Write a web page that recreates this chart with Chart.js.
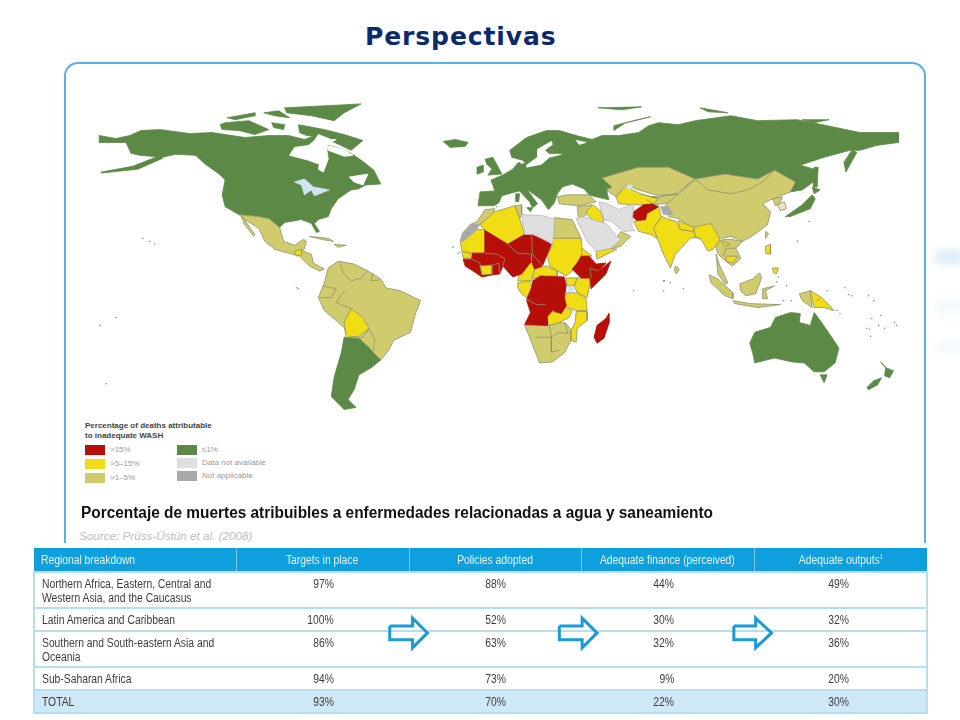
<!DOCTYPE html>
<html>
<head>
  <title>Perspectivas</title>
  <script src="https://cdn.jsdelivr.net/npm/chart.js@4.4.2/dist/chart.umd.min.js"></script>
  <style>
    html, body { margin: 0; padding: 0; background: #fff; }
    body { width: 960px; height: 720px; position: relative; overflow: hidden; font-family: "Liberation Sans", Arial, sans-serif; }
    h1 { position: absolute; left: 365px; top: 22px; margin: 0; font: bold 25px "DejaVu Sans", sans-serif; color: #0b2a6e; letter-spacing: 0.9px; }
    #panel { position: absolute; left: 64px; top: 62px; width: 858px; height: 479px; border: 2px solid #55b2e2; border-bottom: none; border-radius: 14px 14px 0 0; }
    .glow { position: absolute; left: 935px; width: 30px; background: #dcedf8; filter: blur(4px); }
    canvas { position: absolute; left: 0; top: 0; z-index: 3; pointer-events: none; filter: blur(0.3px); }
    #legendTitle { position: absolute; left: 85px; top: 421px; font-weight: bold; font-size: 8px; line-height: 10px; color: #444; }
    .swatch { position: absolute; width: 20px; height: 10px; }
    .swatchLabel { position: absolute; font-size: 8px; line-height: 10px; color: #999; white-space: nowrap; }
    #caption { position: absolute; left: 81px; top: 504px; font-weight: bold; font-size: 16px; color: #111; white-space: nowrap; transform: scaleX(0.963); transform-origin: left; }
    #source { position: absolute; left: 79px; top: 529px; font-style: italic; font-size: 11.7px; color: #bdbdbd; white-space: nowrap; }
    table { position: absolute; left: 33px; top: 548px; width: 893px; border-collapse: collapse; table-layout: fixed; font-size: 12px; line-height: 14px; color: #3c3c3c; }
    th { background: #0f9fdf; color: #e4f4fc; font-weight: normal; height: 23px; padding: 0; border-left: 1px solid #7cc8ec; text-align: center; }
    th:first-child { text-align: left; padding-left: 7px; border-left: none; }
    td { box-sizing: border-box; padding: 4px 0 0 7px; border: 2px solid #b4def1; border-width: 2px 0; vertical-align: top; }
    td.num { text-align: right; }
    tr.one td { height: 23px; }
    tr.two td { height: 36px; }
    tr.total td { background: #cfe8f6; }
    tr td:first-child { border-left: 2px solid #b4def1; }
    tr td:last-child { border-right: 2px solid #b4def1; }
    sup { font-size: 7px; line-height: 0; }
    .t { display: inline-block; white-space: nowrap; transform: scaleX(0.86); transform-origin: left; }
    th .t { transform-origin: center; }
    th:first-child .t { transform-origin: left; }
    td.num .t { transform-origin: right; }
  </style>
</head>
<body>
  <h1>Perspectivas</h1>
  <div id="panel"></div>
  <div class="glow" style="top:250px;height:14px"></div>
  <div class="glow" style="top:300px;height:14px;opacity:.35"></div>
  <div class="glow" style="top:342px;height:10px;opacity:.45"></div>
  <div id="legendTitle">Percentage of deaths attributable<br>to inadequate WASH</div>
  <div id="legend"></div>
  <div id="caption">Porcentaje de muertes atribuibles a enfermedades relacionadas a agua y saneamiento</div>
  <div id="source">Source: Prüss-Üstün et al. (2008)</div>
  <table id="tbl"></table>
  <canvas id="mapChart" width="960" height="720"></canvas>
<script>
// table data
const columnLabels = ['Regional breakdown', 'Targets in place', 'Policies adopted', 'Adequate finance (perceived)', 'Adequate outputs<sup>1</sup>'];
const regionLabels = ['Northern Africa, Eastern, Central and<br>Western Asia, and the Caucasus', 'Latin America and Caribbean', 'Southern and South-eastern Asia and<br>Oceania', 'Sub-Saharan Africa', 'TOTAL'];
const targetsInPlace = [97, 100, 86, 94, 93];
const policiesAdopted = [88, 52, 63, 73, 70];
const adequateFinance = [44, 30, 32, 9, 22];
const adequateOutputs = [49, 32, 36, 20, 30];

// legend
const legendLabels = ['>15%', '>5–15%', '>1–5%', '≤1%', 'Data not available', 'Not applicable'];

// map outlines, in map units (x east, y south)
const northAmerica = [[96,133],[113,136],[127,133],[138,128],[157,127],[187,131],[210,130],[243,135],[267,133],[287,133],[303,137],[317,132],[327,143],[343,147],[353,153],[363,160],[373,168],[380,182],[365,183],[357,187],[350,188],[337,197],[330,207],[327,215],[317,218],[313,222],[318,230],[315,231],[310,222],[300,218],[283,221],[278,226],[267,217],[257,215],[237,213],[223,205],[220,193],[223,178],[217,172],[203,162],[193,153],[173,152],[160,155],[137,153],[128,151],[123,140],[96,140]];
const alaskaPeninsula = [[98,170],[130,164],[158,153],[160,156],[135,167],[98,171]];
const ellesmere = [[283,105],[360,101],[343,110],[333,118],[310,113],[285,110]];
const banks = [[225,115],[253,110],[253,113],[233,117]];
const victoria = [[218,122],[223,120],[247,118],[267,127],[253,132],[237,128],[220,127]];
const arcticA = [[262,110],[277,108],[288,115],[273,113]];
const arcticB = [[270,120],[283,122],[282,127],[272,125]];
const baffin = [[297,122],[323,127],[343,132],[362,138],[350,148],[323,135],[305,133],[298,130]];
const iceland = [[443,139],[455,137],[468,140],[465,144],[450,145]];
const argentinaChile = [[343,337],[358,338],[368,347],[380,360],[370,368],[358,375],[353,390],[347,400],[355,408],[343,410],[330,397],[333,377],[340,353]];
const britain = [[485,157],[493,155],[502,172],[488,173],[492,167],[487,162]];
const ireland = [[477,165],[483,163],[483,170],[477,172]];
const sardinia = [[516,192],[520,192],[519,200],[516,200]];
const sicily = [[527,206],[533,206],[531,210]];
const eurasiaNorth = [[478,204],[480,190],[495,189],[491,178],[503,173],[513,167],[519,160],[522,162],[526,161],[523,158],[512,155],[510,148],[527,135],[547,128],[560,128],[577,133],[593,137],[603,133],[620,133],[640,130],[650,123],[660,120],[680,122],[697,118],[733,113],[760,118],[800,117],[830,123],[863,130],[902,130],[902,140],[880,143],[863,148],[853,148],[827,155],[803,163],[817,167],[820,177],[805,188],[793,190],[798,180],[777,168],[760,177],[727,172],[697,177],[670,165],[640,165],[603,176],[613,185],[608,190],[610,198],[597,195],[590,193],[585,187],[573,182],[563,185],[558,192],[556,198],[555,201],[549,208],[542,198],[527,187],[538,202],[533,206],[530,200],[520,189],[512,191],[502,194],[499,201],[494,204]];
const kamchatka = [[855,148],[860,150],[849,170],[847,160]];
const novayaZemlya = [[615,123],[652,114],[627,120],[615,128]];
const svalbard = [[599,105],[643,104],[623,107]];
const franzJosef = [[702,105],[730,110],[710,109]];
const newSiberia = [[805,117],[832,117],[817,120]];
const sakhalin = [[817,165],[821,165],[820,185],[816,185]];
const honshu = [[788,215],[805,203],[815,193],[818,197],[813,207],[793,215]];
const hokkaido = [[815,185],[823,188],[817,192]];
const australia = [[752,343],[757,332],[773,327],[778,317],[793,312],[803,313],[802,322],[813,325],[817,312],[823,320],[832,333],[842,348],[838,363],[827,372],[817,372],[807,363],[795,362],[777,358],[757,363],[755,353]];
const tasmania = [[823,375],[830,375],[827,383]];
const nzNorth = [[884,362],[890,368],[897,371],[893,378],[888,376],[889,368]];
const nzSouth = [[885,378],[881,385],[872,390],[870,388],[877,381]];

const mexicoCentral = [[237,213],[257,215],[267,217],[278,226],[282,240],[293,244],[302,238],[305,240],[302,250],[310,253],[312,262],[323,268],[318,270],[308,265],[298,255],[287,252],[273,248],[263,240],[257,227],[243,218]];
const baja = [[240,215],[253,233],[252,235],[242,222]];
const cuba = [[308,235],[327,237],[332,240],[320,238]];
const hispaniola = [[333,243],[345,244],[337,246]];
const southAmericaNorth = [[327,267],[337,260],[353,263],[367,270],[380,278],[385,287],[400,290],[420,300],[415,313],[410,332],[393,340],[388,350],[380,360],[372,352],[368,347],[358,338],[346,337],[343,327],[323,310],[317,297],[323,282]];
const morocco = [[477,220],[485,208],[495,207],[493,213],[480,223],[470,223]];
const tunisia = [[515,204],[522,203],[522,213],[520,217]];
const egypt = [[555,216],[573,218],[582,237],[554,237]];
const southernAfrica = [[525,325],[550,325],[560,322],[567,323],[572,330],[572,340],[565,353],[553,362],[540,363],[535,350],[530,337]];
const kazakhstan = [[603,176],[640,165],[670,165],[697,177],[680,190],[673,193],[657,193],[647,190],[637,187],[627,183],[617,195],[607,188],[613,185]];
const tajikKyrgyz = [[653,195],[680,192],[675,200],[658,203]];
const china = [[697,177],[727,172],[760,177],[777,168],[798,180],[793,190],[773,198],[765,202],[773,210],[770,223],[757,233],[745,240],[733,235],[723,237],[697,228],[680,217],[670,215],[667,203],[680,192]];
const northKorea = [[775,197],[785,195],[782,202],[778,204]];
const turkey = [[558,195],[567,193],[590,193],[597,200],[580,204],[568,203],[560,202]];
const levant = [[578,205],[593,203],[588,212],[582,217],[579,215]];
const oman = [[622,230],[632,235],[622,245],[610,248],[617,238]];
const sriLanka = [[677,265],[681,268],[678,273],[676,269]];
const indochina = [[717,243],[725,238],[733,238],[745,240],[738,247],[743,257],[735,265],[730,262],[720,253]];
const malaya = [[718,253],[722,265],[730,282],[727,283],[720,273]];
const sumatra = [[711,274],[720,278],[735,292],[735,298],[727,295],[713,282]];
const java = [[735,300],[753,303],[783,304],[760,307],[737,303]];
const borneo = [[742,283],[755,278],[762,272],[764,277],[758,293],[748,295],[743,290]];
const sulawesi = [[765,288],[777,285],[768,290],[770,298],[765,298]];
const taiwan = [[768,230],[771,232],[768,237]];
const westPapua = [[802,293],[813,290],[815,307],[805,300]];

const guatemala = [[293,250],[300,248],[300,253],[295,255]];
const bolivia = [[350,308],[362,317],[368,328],[358,336],[345,337],[343,322]];
const algeria = [[480,223],[495,210],[515,204],[520,217],[525,233],[508,243],[485,229]];
const mauritania = [[460,240],[470,228],[485,228],[485,252],[470,252],[462,250]];
const senegal = [[462,250],[470,252],[472,257],[463,257]];
const ivoryCoast = [[480,265],[492,264],[492,273],[482,274]];
const sudan = [[554,242],[554,237],[582,237],[583,247],[587,253],[578,262],[573,270],[567,275],[558,270],[550,265],[548,253]];
const eritrea = [[583,247],[593,255],[582,255]];
const centralAfrica = [[547,265],[558,270],[558,275],[540,276],[532,278],[535,268]];
const cameroon = [[532,260],[535,268],[532,280],[518,280],[520,272],[525,268]];
const gabonCongo = [[518,282],[530,280],[532,287],[527,297],[522,293],[518,287]];
const kenya = [[578,277],[591,277],[590,288],[588,297],[578,292],[575,285]];
const uganda = [[567,277],[578,277],[575,285],[568,285]];
const tanzania = [[567,292],[578,292],[587,298],[588,310],[577,310],[565,305]];
const zambia = [[563,305],[573,310],[570,317],[560,322],[550,325],[547,316],[553,311],[562,313]];
const mozambique = [[577,311],[588,311],[588,320],[578,328],[577,342],[572,340],[572,330],[576,322]];
const centralAsiaSouth = [[617,195],[627,185],[642,192],[660,197],[653,203],[643,203],[633,203],[620,202]];
const iraq = [[587,210],[594,203],[602,210],[605,220],[597,222],[588,213]];
const yemen = [[597,250],[612,247],[618,248],[598,258]];
const pakistan = [[635,220],[647,218],[648,212],[660,205],[663,215],[655,227],[660,238],[652,233],[640,230]];
const india = [[663,215],[678,220],[682,228],[695,230],[698,236],[692,237],[677,253],[672,267],[665,253],[660,240],[655,227]];
const nepal = [[680,219],[696,226],[695,230],[682,228]];
const myanmar = [[696,226],[707,223],[713,222],[722,238],[715,248],[710,250],[703,238],[697,235]];
const laos = [[723,239],[732,243],[727,245]];
const cambodia = [[728,255],[740,255],[735,262],[728,260]];
const luzon = [[768,245],[773,243],[773,253],[768,252]];
const mindanao = [[775,267],[781,267],[779,273],[776,272]];
const papuaNewGuinea = [[813,290],[825,297],[837,310],[827,307],[817,307]];

const westAfricaRed = [[485,229],[508,243],[525,233],[533,233],[552,243],[548,253],[543,265],[535,268],[532,260],[522,273],[513,276],[503,265],[500,273],[492,274],[482,276],[473,270],[465,265],[463,258],[472,258],[472,252],[485,252]];
const ethiopia = [[582,255],[590,255],[597,263],[607,262],[600,270],[592,277],[582,277],[573,268],[578,262]];
const somalia = [[612,260],[607,273],[592,288],[591,277],[600,270],[607,264]];
const drCongo = [[541,275],[565,276],[567,285],[565,297],[567,305],[562,313],[553,310],[548,316],[546,304],[537,298],[527,299],[532,287],[533,280]];
const angola = [[527,300],[537,298],[546,304],[548,318],[548,325],[525,324],[531,312]];
const madagascar = [[610,313],[610,323],[605,338],[598,343],[595,337],[598,325],[607,318]];
const afghanistan = [[635,210],[645,203],[655,202],[660,205],[648,212],[647,218],[638,219],[634,215]];

const libya = [[522,213],[543,214],[555,218],[554,242],[533,233],[525,233]];
const iran = [[600,200],[608,202],[620,208],[635,202],[633,225],[636,229],[625,230],[613,220],[605,218],[602,208]];
const saudiArabia = [[577,217],[583,215],[607,222],[618,235],[622,238],[612,247],[597,250],[588,240]];
const southKorea = [[780,203],[787,200],[789,207],[783,209]];

const westernSahara = [[470,223],[480,223],[475,230],[463,240],[460,240],[462,232]];
const kashmir = [[662,205],[670,205],[675,213],[665,213]];

// water painted over the land
const hudsonBay = [[317,132],[330,137],[335,137],[325,143],[327,157],[322,170],[317,167],[318,162],[307,158],[288,153],[293,145],[307,143],[313,138]];
const hudsonStrait = [[325,143],[343,147],[352,153],[343,154],[327,148]];
const stLawrence = [[348,175],[367,172],[362,183],[353,180]];
const balticSea = [[527,163],[538,155],[538,147],[552,139],[553,142],[545,148],[550,152],[562,152],[550,155],[542,162],[527,165]];
const whiteSea = [[577,138],[587,140],[580,142]];
const greatLakes = [[293,180],[303,177],[312,185],[328,188],[313,194],[310,188],[303,193],[300,183]];
const lakeVictoria = [[569,286],[574,286],[574,291],[569,291]];
const aralSea = [[629,183],[633,183],[633,187],[629,187]];

// country borders inside one colour
const borderLines = [
  [[339,262],[342,272],[350,280],[360,277],[367,270]],
  [[322,285],[335,288],[330,297],[319,297]],
  [[343,290],[335,302],[350,308]],
  [[372,272],[370,280],[378,279]],
  [[358,338],[362,337],[368,328],[374,340],[372,352]],
  [[697,177],[710,188],[733,192],[750,188],[765,180],[777,168]],
  [[653,196],[680,192],[697,177]],
  [[550,325],[552,337],[559,332],[569,333],[565,322]],
  [[536,337],[552,337],[552,352],[560,350]],
  [[472,258],[480,262],[482,274]],
  [[485,252],[498,253],[505,258],[503,265]],
  [[508,243],[518,252],[532,253],[532,260]],
  [[532,233],[533,253],[543,265]],
  [[500,273],[499,262],[492,264]],
  [[527,299],[537,304],[546,304]],
  [[592,277],[591,267],[600,270]],
  [[703,238],[698,236]],
  [[738,247],[728,247],[725,255]],
  [[642,192],[660,197]],
  [[660,205],[648,198]]
];

// small island groups
const islandDots = [[140,237],[147,240],[152,243],[113,317],[97,325],[103,384],[295,287],[297,288],[467,232],[460,251],[453,246],[458,252],[497,205],[635,290],[666,280],[665,290],[665,280],[672,282],[685,288],[821,299],[830,290],[848,287],[852,294],[855,295],[872,295],[877,300],[875,318],[882,325],[888,328],[873,329],[874,336],[898,322],[900,325],[870,328],[812,220],[800,240],[884,315],[840,310],[843,313],[789,285],[794,300],[786,300],[781,276],[779,281]];

const arrowOne = [[389,629],[412,629],[412,621],[427,636],[412,651],[412,643],[389,643]];
const arrowTwo = [[560,629],[583,629],[583,621],[598,636],[583,651],[583,643],[560,643]];
const arrowThree = [[736,629],[758,629],[758,621],[774,636],[758,651],[758,643],[736,643]];

const GREEN = '#5c8a46', RED = '#b50f08', YELLOW = '#f0dd14', OLIVE = '#d0cc6e', PALE = '#dfdfdf', GREY = '#a9a9a9';
const EDGE = '#8e9070';

const layers = [
  [[northAmerica, alaskaPeninsula, ellesmere, banks, victoria, arcticA, arcticB, baffin, iceland, argentinaChile, britain, ireland, sardinia, sicily, eurasiaNorth, kamchatka, novayaZemlya, svalbard, franzJosef, newSiberia, sakhalin, honshu, hokkaido, australia, tasmania, nzNorth, nzSouth], GREEN, GREEN],
  [[mexicoCentral, baja, cuba, hispaniola, southAmericaNorth, morocco, tunisia, egypt, southernAfrica, kazakhstan, tajikKyrgyz, china, northKorea, turkey, levant, oman, sriLanka, indochina, malaya, sumatra, java, borneo, sulawesi, taiwan, westPapua], OLIVE, EDGE],
  [[guatemala, bolivia, algeria, mauritania, senegal, sudan, eritrea, centralAfrica, cameroon, gabonCongo, kenya, uganda, tanzania, zambia, mozambique, centralAsiaSouth, iraq, yemen, pakistan, india, nepal, myanmar, laos, cambodia, luzon, mindanao, papuaNewGuinea], YELLOW, EDGE],
  [[westAfricaRed, ethiopia, somalia, drCongo, angola, madagascar, afghanistan], RED, RED],
  [[ivoryCoast], YELLOW, EDGE],
  [[libya, iran, saudiArabia], PALE, '#b5b5b5'],
  [[southKorea], '#efe2c4', EDGE],
  [[westernSahara, kashmir], GREY, GREY],
  [[hudsonBay, hudsonStrait, stLawrence, balticSea, whiteSea], '#ffffff', '#ffffff'],
  [[greatLakes, lakeVictoria, aralSea], '#cfe3f2', '#cfe3f2']
];

const toPoints = pts => pts.map(p => ({ x: p[0], y: p[1] }));
const closed = pts => toPoints(pts.concat([pts[0]]));

const datasets = [];
layers.forEach(([shapes, fill, edge]) => {
  shapes.forEach(shape => {
    datasets.push({ data: closed(shape), showLine: true, fill: 'shape', backgroundColor: fill, borderColor: edge, borderWidth: 0.8, pointRadius: 0, tension: 0 });
  });
});
borderLines.forEach(line => {
  datasets.push({ data: toPoints(line), showLine: true, fill: false, borderColor: EDGE, borderWidth: 0.8, pointRadius: 0, tension: 0 });
});
datasets.push({ data: toPoints(islandDots), showLine: false, pointRadius: 0.8, pointBackgroundColor: '#8d8d8d', pointBorderWidth: 0 });
[arrowOne, arrowTwo, arrowThree].forEach(arrow => {
  datasets.push({ data: closed(arrow), showLine: true, fill: false, borderColor: '#1b9ad6', borderWidth: 3, borderJoinStyle: 'miter', pointRadius: 0, tension: 0 });
});
// Chart.js paints the first dataset last, so flip to keep the layer order above
datasets.reverse();

new Chart(document.getElementById('mapChart').getContext('2d'), {
  type: 'scatter',
  data: { datasets },
  options: {
    responsive: false,
    animation: false,
    events: [],
    layout: { padding: 0 },
    plugins: { legend: { display: false }, tooltip: { enabled: false } },
    scales: {
      x: { type: 'linear', display: false, min: 0, max: 960 },
      y: { type: 'linear', display: false, min: 0, max: 720, reverse: true }
    }
  }
});

// legend
const legendColors = [RED, YELLOW, OLIVE, GREEN, PALE, GREY];
const legendBox = document.getElementById('legend');
legendLabels.forEach((label, i) => {
  const col = i < 3 ? 0 : 1;
  const row = i % 3;
  const top = col === 0 ? 445 + row * 14 : 445 + row * 13;
  const left = col === 0 ? 85 : 177;
  legendBox.insertAdjacentHTML('beforeend',
    `<div class="swatch" style="left:${left}px;top:${top}px;background:${legendColors[i]}"></div>` +
    `<div class="swatchLabel" style="left:${left + 25}px;top:${top}px">${label}</div>`);
});

// table
const rightPadding = [75, 75, 80, 77];
const tbl = document.getElementById('tbl');
const widths = [202, 173, 172, 173, 173];
let html = '<colgroup>' + widths.map(w => `<col style="width:${w}px">`).join('') + '</colgroup>';
html += '<tr>' + columnLabels.map(c => `<th><span class="t">${c}</span></th>`).join('') + '</tr>';
regionLabels.forEach((region, i) => {
  const cls = region === 'TOTAL' ? 'one total' : region.includes('<br>') ? 'two' : 'one';
  const vals = [targetsInPlace[i], policiesAdopted[i], adequateFinance[i], adequateOutputs[i]];
  html += `<tr class="${cls}"><td><span class="t">${region}</span></td>` +
    vals.map((v, j) => `<td class="num" style="padding-right:${rightPadding[j]}px"><span class="t">${v}%</span></td>`).join('') + '</tr>';
});
tbl.innerHTML = html;
</script>
</body>
</html>
